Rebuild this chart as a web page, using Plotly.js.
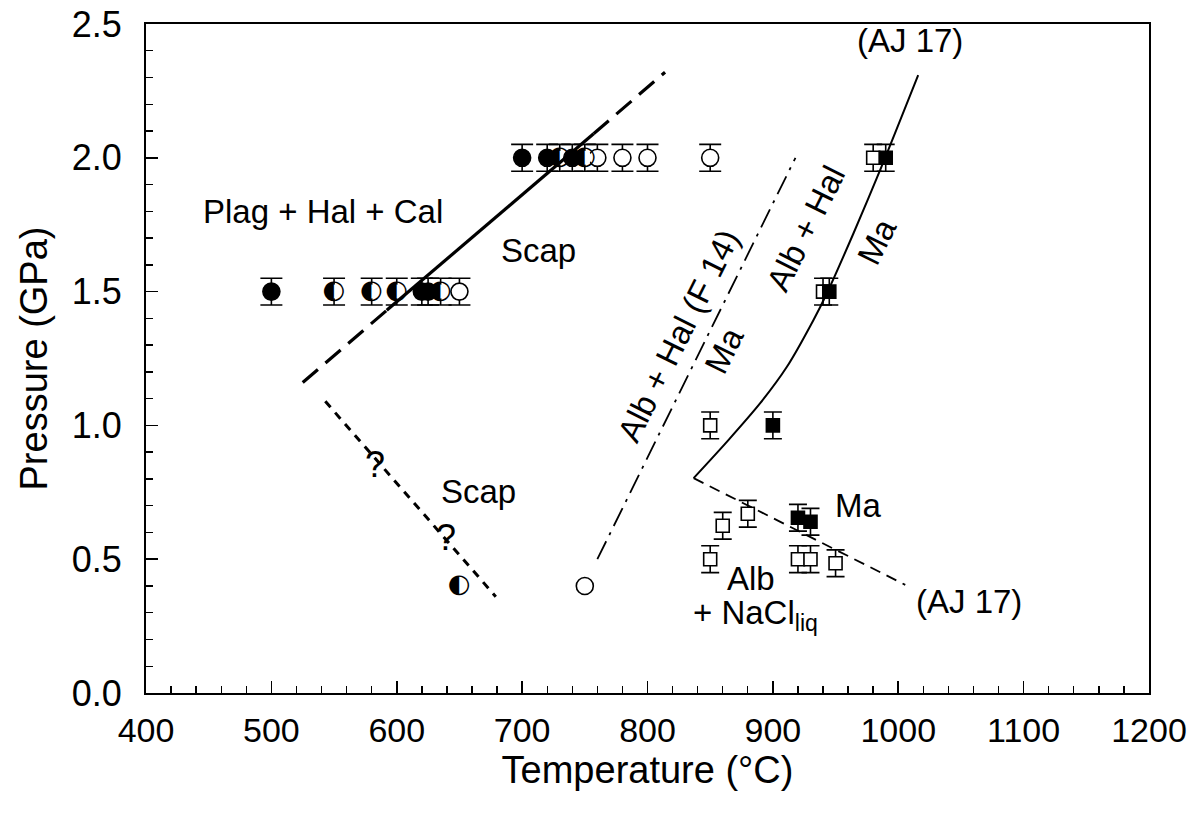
<!DOCTYPE html>
<html><head><meta charset="utf-8">
<script src="https://cdn.plot.ly/plotly-3.0.1.min.js"></script>
<style>body{margin:0;background:#fff}</style>
</head><body><div id="chart" style="width:1202px;height:814px"></div>
<script>
// ---------- data ----------
// circles with error bars
const circOpenT   = [650, 760, 780, 800, 850];
const circOpenP   = [1.5, 2.0, 2.0, 2.0, 2.0];
const circHalfT   = [550, 580, 600, 635, 730, 750];
const circHalfP   = [1.5, 1.5, 1.5, 1.5, 2.0, 2.0];
const circFilledT = [500, 620, 625, 700, 720, 740];
const circFilledP = [1.5, 1.5, 1.5, 2.0, 2.0, 2.0];
// circles without error bars
const circOpen2T = [750];
const circOpen2P = [0.4];
const circHalf2T = [650];
const circHalf2P = [0.4];
// squares with error bars
const sqOpenT   = [980, 940, 850, 850, 860, 880, 920, 930, 950];
const sqOpenP   = [2.0, 1.5, 1.0, 0.5, 0.625, 0.67, 0.5, 0.5, 0.485];
const sqFilledT = [990, 945, 900, 920, 930];
const sqFilledP = [2.0, 1.5, 1.0, 0.655, 0.64];
const errP = 0.05;

// boundary curves
const scapLowDashT = [525, 592];   const scapLowDashP = [1.16, 1.43];
const scapSolidT   = [592, 757];   const scapSolidP   = [1.43, 2.09];
const scapUpDashT  = [757, 814];   const scapUpDashP  = [2.09, 2.32];
const scapDotT = [543, 679];       const scapDotP = [1.09, 0.36];
const f14T = [760, 918];           const f14P = [0.5, 2.0];
const aj17T = [836.8, 864.7, 889.9, 911.2, 932.4, 943.1, 964.4, 985.6, 1015.9];
const aj17P = [0.803, 0.946, 1.083, 1.219, 1.394, 1.494, 1.719, 1.955, 2.309];
const aj17LowT = [836.8, 1005.6]; const aj17LowP = [0.803, 0.404];

// labels
const labelText  = ['Plag + Hal + Cal', 'Scap', 'Scap', '?', '?', '(AJ 17)', 'Alb + Hal (F 14)', 'Ma', 'Alb + Hal', 'Ma', 'Ma', 'Alb', '+ NaCl<sub>liq</sub>', '(AJ 17)'];
const labelT     = [541.5, 713, 665.5, 582.5, 639, 1009.5, 824.5, 861, 926, 983, 968, 882.5, 886, 1056.5];
const labelP     = [1.80, 1.652, 0.752, 0.853, 0.58, 2.44, 1.337, 1.28, 1.737, 1.686, 0.70, 0.427, 0.29, 0.341];
const labelAngle = [0, 0, 0, 0, 0, 0, -63.5, -63.5, -63.5, -63.5, 0, 0, 0, 0];

// ---------- traces ----------
const FONT = 'Liberation Sans, Arial, sans-serif';
const circErr = {type: 'constant', value: errP, color: '#000', thickness: 1.6, width: 11};
const sqErr   = {type: 'constant', value: errP, color: '#000', thickness: 1.6, width: 9};
const HALF = '\u25D0';

const traces = [
  {x: circOpenT, y: circOpenP, mode: 'markers', error_y: circErr,
   marker: {symbol: 'circle', size: 17, color: '#fff', line: {color: '#000', width: 1.6}}},
  {x: circHalfT, y: circHalfP, mode: 'markers+text', error_y: circErr, text: circHalfT.map(() => HALF),
   textposition: 'middle center', textfont: {family: 'DejaVu Sans', size: 26, color: '#000'},
   marker: {symbol: 'circle', size: 14, color: '#fff', line: {width: 0}}},
  {x: circFilledT, y: circFilledP, mode: 'markers', error_y: circErr,
   marker: {symbol: 'circle', size: 17, color: '#000', line: {color: '#000', width: 1.6}}},
  {x: circOpen2T, y: circOpen2P, mode: 'markers',
   marker: {symbol: 'circle', size: 17, color: '#fff', line: {color: '#000', width: 1.6}}},
  {x: circHalf2T, y: circHalf2P, mode: 'text', text: circHalf2T.map(() => HALF),
   textposition: 'middle center', textfont: {family: 'DejaVu Sans', size: 26, color: '#000'}},
  {x: sqOpenT, y: sqOpenP, mode: 'markers', error_y: sqErr,
   marker: {symbol: 'square', size: 13, color: '#fff', line: {color: '#000', width: 1.6}}},
  {x: sqFilledT, y: sqFilledP, mode: 'markers', error_y: sqErr,
   marker: {symbol: 'square', size: 13, color: '#000', line: {color: '#000', width: 1.6}}},
  {x: scapLowDashT, y: scapLowDashP, mode: 'lines', line: {color: '#000', width: 3.2, dash: '20px,10px'}},
  {x: scapSolidT, y: scapSolidP, mode: 'lines', line: {color: '#000', width: 3.2}},
  {x: scapUpDashT, y: scapUpDashP, mode: 'lines', line: {color: '#000', width: 3.2, dash: '20px,10px'}},
  {x: scapDotT, y: scapDotP, mode: 'lines', line: {color: '#000', width: 3, dash: '8px,7px'}},
  {x: f14T, y: f14P, mode: 'lines', line: {color: '#000', width: 1.8, dash: '20px,7px,3px,7px'}},
  {x: aj17T, y: aj17P, mode: 'lines', line: {color: '#000', width: 2, shape: 'spline', smoothing: 0.8}},
  {x: aj17LowT, y: aj17LowP, mode: 'lines', line: {color: '#000', width: 1.8, dash: '11px,7px'}}
];

const annotations = labelText.map((t, i) => ({
  text: t, x: labelT[i], y: labelP[i], xref: 'x', yref: 'y', showarrow: false,
  textangle: labelAngle[i], xanchor: 'center', yanchor: 'middle',
  font: {family: FONT, size: t === '?' ? 36 : 33, color: '#000'}
}));

const axisCommon = {
  showgrid: false, zeroline: false, showline: true, linecolor: '#000', linewidth: 2, mirror: true,
  ticks: 'inside', tickcolor: '#000', tickwidth: 1.6, ticklen: 12
};

const layout = {
  width: 1202, height: 814,
  margin: {l: 146, r: 53, t: 24, b: 121},
  paper_bgcolor: '#fff', plot_bgcolor: '#fff',
  showlegend: false,
  font: {family: FONT, color: '#000'},
  xaxis: Object.assign({}, axisCommon, {
    range: [400, 1200], dtick: 100, tick0: 400, ticklabelstandoff: 6,
    tickfont: {family: FONT, size: 34, color: '#000'},
    minor: {dtick: 20, ticks: 'inside', ticklen: 7, tickwidth: 1.4, tickcolor: '#000'},
    title: {text: 'Temperature (°C)', font: {family: FONT, size: 38, color: '#000'}, standoff: 6}
  }),
  yaxis: Object.assign({}, axisCommon, {
    range: [0, 2.5], dtick: 0.5, tick0: 0, tickformat: '.1f', ticklabelstandoff: 15,
    tickfont: {family: FONT, size: 36, color: '#000'},
    minor: {dtick: 0.1, ticks: 'inside', ticklen: 7, tickwidth: 1.4, tickcolor: '#000'},
    title: {text: 'Pressure (GPa)', font: {family: FONT, size: 38, color: '#000'}, standoff: 12}
  }),
  annotations: annotations
};

Plotly.newPlot('chart', traces, layout, {displayModeBar: false, staticPlot: true});
</script>
</body></html>
